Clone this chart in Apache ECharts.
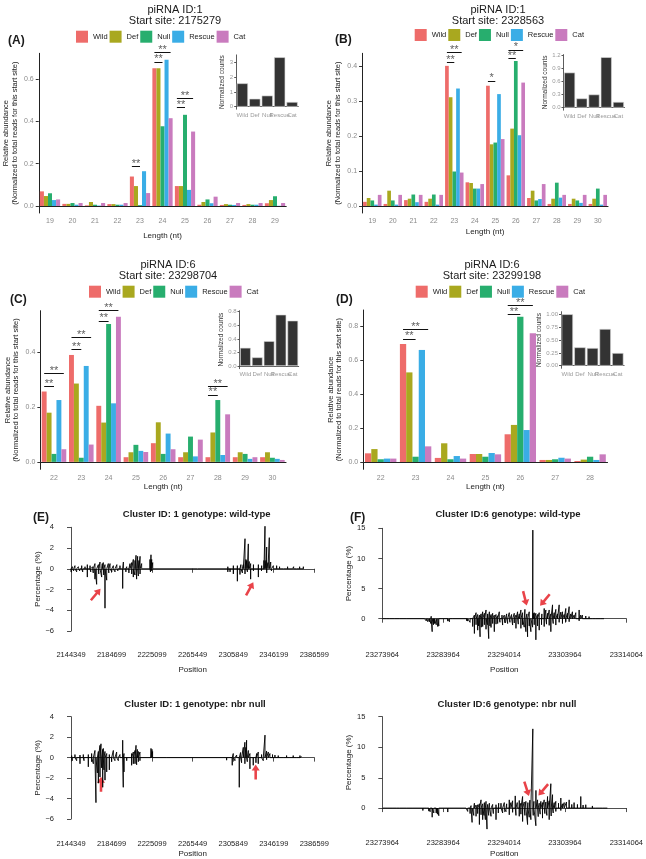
<!DOCTYPE html>
<html>
<head>
<meta charset="utf-8">
<script src="https://cdn.jsdelivr.net/npm/echarts@6/dist/echarts.min.js"></script>
<style>
html, body { margin: 0; padding: 0; background: #fff; }
#main { width: 646px; height: 859px; }
</style>
</head>
<body>
<div id="main"></div>
<script>
var genotypes = ['Wild', 'Def', 'Null', 'Rescue', 'Cat'];
var genoColors = ['#EE6C6A', '#A9A81F', '#27AE6E', '#3AADE6', '#C97BBE'];

// (A) piRNA ID:1, start site 2175279
var lenA = [19, 20, 21, 22, 23, 24, 25, 26, 27, 28, 29];
var A_wild   = [0.069, 0.010, 0.003, 0.009, 0.139, 0.650, 0.094, 0.006, 0.005, 0.005, 0.013];
var A_def    = [0.047, 0.010, 0.019, 0.009, 0.094, 0.650, 0.094, 0.019, 0.009, 0.009, 0.028];
var A_null   = [0.060, 0.014, 0.006, 0.006, 0.004, 0.376, 0.430, 0.031, 0.006, 0.006, 0.046];
var A_rescue = [0.028, 0.006, 0.002, 0.006, 0.164, 0.690, 0.076, 0.013, 0.005, 0.006, 0.001];
var A_cat    = [0.031, 0.014, 0.014, 0.014, 0.061, 0.414, 0.351, 0.044, 0.014, 0.014, 0.014];
var A_counts = [1.58, 0.54, 0.75, 3.34, 0.32];
// [length, from genotype, to genotype, height, label]
var A_sig = [[23, 0, 2, 0.186, '**'], [24, 0, 2, 0.68, '**'], [24, 0, 4, 0.724, '**'],
             [25, 0, 2, 0.466, '**'], [25, 0, 4, 0.507, '**']];

// (B) piRNA ID:1, start site 2328563
var lenB = [19, 20, 21, 22, 23, 24, 25, 26, 27, 28, 29, 30];
var B_wild   = [0.012, 0.006, 0.017, 0.012, 0.402, 0.068, 0.345, 0.088, 0.023, 0.006, 0.006, 0.006];
var B_def    = [0.023, 0.044, 0.021, 0.021, 0.312, 0.066, 0.177, 0.222, 0.044, 0.021, 0.021, 0.021];
var B_null   = [0.016, 0.016, 0.033, 0.033, 0.099, 0.050, 0.182, 0.416, 0.016, 0.067, 0.016, 0.050];
var B_rescue = [0.004, 0.004, 0.011, 0.004, 0.337, 0.050, 0.321, 0.203, 0.020, 0.024, 0.009, 0.004];
var B_cat    = [0.032, 0.032, 0.032, 0.032, 0.096, 0.063, 0.192, 0.354, 0.063, 0.032, 0.032, 0.032];
var B_counts = [0.80, 0.21, 0.30, 1.15, 0.13];
var B_sig = [[23, 0, 2, 0.413, '**'], [23, 0, 4, 0.44, '**'], [25, 0, 2, 0.359, '*'],
             [26, 0, 2, 0.424, '**'], [26, 0, 4, 0.448, '*']];

// (C) piRNA ID:6, start site 23298704
var lenC = [22, 23, 24, 25, 26, 27, 28, 29, 30];
var C_wild   = [0.256, 0.389, 0.204, 0.017, 0.068, 0.017, 0.017, 0.017, 0.017];
var C_def    = [0.179, 0.285, 0.143, 0.035, 0.144, 0.035, 0.107, 0.035, 0.035];
var C_null   = [0.029, 0.015, 0.502, 0.062, 0.029, 0.092, 0.225, 0.029, 0.015];
var C_rescue = [0.225, 0.349, 0.213, 0.040, 0.103, 0.020, 0.025, 0.011, 0.011];
var C_cat    = [0.046, 0.063, 0.528, 0.036, 0.046, 0.081, 0.173, 0.017, 0.007];
var C_counts = [0.268, 0.127, 0.366, 0.756, 0.668];
var C_sig = [[22, 0, 2, 0.276, '**'], [22, 0, 4, 0.321, '**'], [23, 0, 2, 0.41, '**'],
             [23, 0, 4, 0.452, '**'], [24, 0, 2, 0.513, '**'], [24, 0, 4, 0.55, '**'],
             [28, 0, 2, 0.244, '**'], [28, 0, 4, 0.276, '**']];

// (D) piRNA ID:6, start site 23299198
var lenD = [22, 23, 24, 25, 26, 27, 28];
var D_wild   = [0.051, 0.694, 0.024, 0.047, 0.163, 0.012, 0.006];
var D_def    = [0.076, 0.527, 0.110, 0.047, 0.218, 0.012, 0.014];
var D_null   = [0.016, 0.031, 0.016, 0.031, 0.855, 0.016, 0.031];
var D_rescue = [0.020, 0.659, 0.035, 0.053, 0.188, 0.025, 0.012];
var D_cat    = [0.020, 0.092, 0.020, 0.045, 0.757, 0.020, 0.045];
var D_counts = [1.00, 0.357, 0.344, 0.714, 0.247];
var D_sig = [[23, 0, 2, 0.724, '**'], [23, 0, 4, 0.782, '**'],
             [26, 0, 2, 0.869, '**'], [26, 0, 4, 0.92, '**']];

// (E) cluster 1 read percentage per position [position, %]
var E_ticks = [2144349, 2184699, 2225099, 2265449, 2305849, 2346199, 2386599];
var E_wt_up = [[2145700,0.2],[2148300,0.3],[2151700,0.2],[2155000,0.3],[2158300,0.2],[2160600,0.4],[2163300,0.3],
  [2165900,0.2],[2168200,0.5],[2171600,0.4],[2173200,0.65],[2175500,0.5],[2176500,0.6],[2178200,0.4],[2181500,0.5],
  [2183200,0.5],[2186500,0.3],[2190000,0.4],[2193100,0.3],[2196500,0.65],[2199800,0.2],[2203100,0.5],[2204800,0.6],
  [2206400,0.9],[2208100,0.8],[2209100,1.3],[2210700,1.2],[2212000,0.8],[2213100,1.2],[2214700,0.5],[2223000,0.9],
  [2224000,1.35],[2224700,0.9],[2225700,0.6],[2270500,0.15],[2300500,0.2],[2306000,0.3],[2310000,0.3],[2313500,0.4],
  [2315900,0.4],[2317600,2.9],[2318500,0.9],[2319300,0.8],[2320900,2.4],[2321800,0.7],[2323200,0.5],[2326000,0.4],
  [2330900,0.4],[2334200,0.3],[2336500,0.8],[2337500,4.1],[2338500,0.8],[2339200,2.1],[2340500,0.6],[2341800,3.0],
  [2343200,0.65],[2345800,0.3],[2349100,0.3],[2352000,0.2],[2355800,0.15],[2360000,0.2],[2362400,0.15],[2366000,0.2],
  [2369000,0.15],[2372000,0.2],[2375700,0.2]];
var E_wt_down = [[2144500,-0.3],[2147000,-0.2],[2150000,-0.3],[2153000,-0.2],[2156000,-0.3],[2160600,-0.8],[2164000,-0.3],
  [2166500,-0.4],[2168200,-1.0],[2169900,-1.5],[2172000,-0.5],[2174900,-0.8],[2177000,-0.6],[2178200,-3.8],[2179900,-1.1],
  [2182000,-0.4],[2185000,-0.3],[2188200,-0.3],[2191000,-0.2],[2195800,-1.9],[2199000,-0.3],[2202000,-0.4],[2204800,-0.5],
  [2206400,-0.8],[2208000,-0.6],[2209700,-1.0],[2211400,-0.7],[2213100,-0.5],[2223500,-0.3],[2224700,-0.2],[2300500,-0.3],
  [2302700,-0.3],[2306000,-0.5],[2310000,-1.2],[2312600,-0.55],[2315000,-0.4],[2317600,-0.5],[2320000,-0.3],[2323200,-1.0],
  [2326000,-0.2],[2330900,-0.8],[2334000,-0.2],[2339200,-0.4],[2344000,-0.2],[2365000,-0.15],[2373000,-0.15]];
var E_nbr_up = [[2145000,0.2],[2148300,0.3],[2153300,0.25],[2156600,0.3],[2161600,0.3],[2164900,0.4],[2168200,0.7],
  [2171600,0.6],[2173200,1.2],[2174200,1.35],[2175900,0.8],[2176500,0.9],[2178200,0.6],[2179900,0.4],[2182500,0.3],
  [2186500,0.7],[2189800,0.55],[2193100,0.3],[2195800,1.7],[2197100,0.4],[2204700,0.4],[2206400,0.55],[2208100,0.7],
  [2209100,1.2],[2210400,0.8],[2211400,0.6],[2213000,0.55],[2224000,0.9],[2225000,0.8],[2225600,0.6],[2239600,0.05],
  [2299300,0.15],[2305900,0.4],[2309300,0.25],[2313200,0.5],[2315900,1.0],[2317500,1.5],[2318500,1.0],[2319200,1.7],
  [2320900,0.7],[2322500,0.4],[2329200,0.4],[2330800,0.55],[2334100,0.3],[2337500,2.2],[2339100,0.65],[2340800,0.55],
  [2342400,0.4],[2345000,0.3],[2347400,0.25],[2350700,0.2],[2355700,0.15],[2359000,0.2],[2362300,0.15],[2365600,0.2],
  [2369000,0.15],[2372300,0.2],[2374000,0.1]];
var E_nbr_down = [[2145600,-0.3],[2150000,-0.3],[2153300,-0.6],[2157300,-0.3],[2161600,-0.9],[2164900,-0.4],[2166600,-0.6],
  [2169200,-4.4],[2170600,-1.5],[2171600,-2.5],[2173200,-1.9],[2174900,-1.0],[2175900,-2.9],[2177200,-1.2],[2178200,-2.2],
  [2179900,-1.4],[2182500,-1.2],[2184800,-0.4],[2188100,-0.3],[2191500,-0.3],[2196400,-2.9],[2197100,-1.4],[2199800,-0.3],
  [2204700,-0.75],[2206400,-0.6],[2208100,-0.6],[2209700,-0.7],[2211400,-0.4],[2213000,-0.3],[2224400,-0.15],
  [2299300,-0.25],[2304900,-0.75],[2307600,-0.3],[2311900,-2.9],[2314200,-0.5],[2317500,-0.6],[2319900,-0.4],
  [2322500,-1.1],[2325800,-0.75],[2328500,-0.5],[2330800,-0.6],[2335800,-0.3],[2339100,-0.2],[2345700,-0.15]];

// (F) cluster 6 read percentage per position [position, %]
var F_ticks = [23273964, 23283964, 23294014, 23303964, 23314064];
var F_wt_up = [[23274070,0.1],[23274620,0.15],[23275440,0.1],[23275990,0.2],[23276800,0.1],[23277900,0.15],[23281180,0.2],
  [23281610,0.3],[23282000,0.4],[23282540,0.3],[23283090,0.2],[23285000,0.15],[23285550,0.1],[23287840,0.2],[23288280,0.3],
  [23289100,0.6],[23289370,1.0],[23289640,0.7],[23289920,0.6],[23290190,0.8],[23290460,1.15],[23290740,0.9],[23291010,1.45],
  [23291280,0.8],[23291560,1.15],[23291830,0.7],[23292100,0.9],[23292370,0.6],[23292650,0.7],[23292920,0.5],[23293190,1.15],
  [23293630,0.6],[23294010,0.6],[23294400,0.8],[23294830,1.0],[23295210,0.7],[23295650,0.9],[23295930,0.6],[23296200,1.15],
  [23296470,0.8],[23296740,1.45],[23297020,1.0],[23297400,1.55],[23297730,0.8],[23298110,1.15],[23298700,14.7],[23298850,0.9],
  [23298930,1.0],[23299200,0.9],[23299480,0.7],[23299750,1.0],[23300190,0.8],[23300570,1.7],[23300840,1.45],[23301120,0.9],
  [23301390,1.45],[23301660,0.8],[23301940,2.3],[23302210,1.0],[23302480,1.55],[23302750,0.8],[23303030,2.3],[23303300,1.1],
  [23303570,1.15],[23303850,0.7],[23304120,1.7],[23304390,0.9],[23304670,2.0],[23304940,0.8],[23305210,1.15],[23305480,0.6],
  [23305760,1.0],[23306310,1.45],[23306580,0.6],[23306850,0.6],[23307400,0.45],[23307940,0.35],[23308490,0.25],
  [23309040,0.2],[23309860,0.15],[23310400,0.1]];
var F_wt_down = [[23274350,-0.3],[23274890,-0.2],[23275170,-0.2],[23275990,-0.15],[23276800,-0.15],[23277900,-0.1],
  [23280900,-0.3],[23281180,-0.35],[23281450,-0.5],[23281720,-0.5],[23281940,-0.8],[23282160,-2.15],[23282380,-1.0],
  [23282540,-0.8],[23282820,-1.0],[23283090,-1.3],[23283250,-1.2],[23284720,-0.4],[23285000,-0.5],[23287840,-0.35],
  [23288000,-0.4],[23288390,-0.6],[23288820,-1.3],[23289100,-2.45],[23289370,-1.0],[23289640,-1.9],[23289800,-1.2],
  [23290030,-3.0],[23290240,-1.4],[23290460,-1.3],[23290740,-1.0],[23291010,-1.75],[23291230,-1.0],[23291450,-3.3],
  [23291660,-1.2],[23291830,-1.45],[23292100,-0.8],[23292370,-2.15],[23292650,-0.9],[23292920,-0.8],[23293300,-0.6],
  [23293740,-1.05],[23294180,-0.7],[23294560,-0.8],[23294940,-0.6],[23295380,-1.05],[23295650,-0.7],[23295930,-1.6],
  [23296310,-0.9],[23296740,-1.6],[23297020,-1.0],[23297290,-1.4],[23297560,-2.15],[23297840,-3.0],[23298110,-1.2],
  [23298380,-2.15],[23298660,-1.4],[23298930,-1.0],[23299200,-3.5],[23299480,-1.2],[23299750,-1.9],[23300130,-1.0],
  [23300570,-1.3],[23300950,-0.9],[23301390,-1.1],[23301660,-2.15],[23302050,-0.8],[23302480,-1.05],[23303030,-0.6],
  [23303570,-0.8],[23304120,-0.5],[23304670,-0.5],[23305480,-0.3],[23306310,-0.35],[23307400,-0.2],[23308490,-0.15]];
var F_nbr_up = [[23274070,0.1],[23274890,0.15],[23275710,0.1],[23276800,0.15],[23277900,0.1],[23281180,0.2],[23282000,0.3],
  [23282820,0.2],[23284720,0.1],[23288000,0.2],[23288550,0.4],[23289100,0.8],[23289370,0.5],[23289640,0.55],[23289920,0.7],
  [23290190,1.35],[23290460,0.7],[23290740,0.9],[23291010,1.1],[23291280,0.6],[23291560,0.8],[23292100,0.6],[23292650,0.55],
  [23293090,0.8],[23293470,0.8],[23294010,0.9],[23294400,0.7],[23294830,1.35],[23295100,0.9],[23295380,1.2],[23295810,2.0],
  [23296140,0.9],[23296470,1.25],[23296740,0.8],[23297020,1.9],[23297290,1.0],[23297560,1.1],[23297890,0.9],[23298220,1.3],
  [23298700,13.0],[23298880,1.1],[23299210,2.9],[23299480,1.35],[23299750,0.8],[23300020,1.1],[23300290,0.9],[23300570,1.35],
  [23300840,1.0],[23301120,1.9],[23301390,1.2],[23301660,4.0],[23301940,2.2],[23302210,0.9],[23302480,1.1],[23302920,0.8],
  [23303300,1.65],[23303570,0.7],[23303850,0.9],[23304230,1.0],[23304670,1.35],[23305100,0.6],[23305480,0.9],[23306030,0.6],
  [23306580,1.9],[23306960,0.5],[23307400,0.55],[23307940,0.3],[23308490,0.35],[23309040,0.25],[23309580,0.2],
  [23310130,0.1],[23310950,0.05]];
var F_nbr_down = [[23274350,-0.27],[23275170,-0.2],[23276260,-0.2],[23277900,-0.25],[23279000,-0.15],[23280630,-0.4],
  [23281180,-0.3],[23281610,-0.5],[23281830,-0.6],[23282160,-1.5],[23282430,-0.8],[23282820,-0.8],[23283030,-1.0],
  [23283250,-1.25],[23284720,-0.65],[23287730,-0.3],[23288000,-0.55],[23288390,-0.9],[23288720,-2.35],[23288990,-1.2],
  [23289370,-1.35],[23289640,-0.9],[23289920,-2.7],[23290190,-1.1],[23290460,-1.9],[23290680,-1.2],[23290900,-1.9],
  [23291170,-3.45],[23291450,-1.2],[23291830,-1.35],[23292210,-0.9],[23292650,-1.9],[23293030,-0.8],[23293740,-0.8],
  [23294290,-0.6],[23294830,-1.1],[23295380,-0.7],[23295930,-1.2],[23296470,-1.35],[23296740,-1.0],[23297020,-2.2],
  [23297400,-1.2],[23297840,-2.7],[23298110,-1.5],[23298380,-1.9],[23298770,-1.2],[23299200,-2.9],[23299590,-1.4],
  [23299910,-1.0],[23300290,-1.65],[23300680,-0.9],[23301010,-1.2],[23301390,-1.9],[23301720,-1.3],[23302050,-0.8],
  [23302480,-0.55],[23303300,-0.4],[23304120,-0.3],[23305210,-0.2],[23306580,-0.15]];

// red arrows [position, %, rotation]
var E_wt_arrows  = [[2168940, -2.48, -40], [2322260, -1.93, -29]];
var E_nbr_arrows = [[2174217, -2.61, 0], [2328238, -1.41, 0]];
var F_wt_arrows  = [[23297402, 3.38, -166], [23300680, 3.1, 140]];
var F_nbr_arrows = [[23297680, 3.16, -162], [23300417, 3.0, 140]];

var FONT = '"Liberation Sans", Arial, Helvetica, sans-serif';
var ARROW = 'path://M5,0 L10,7 L6.6,7 L6.6,18 L3.4,18 L3.4,7 L0,7 Z';

var option = {
    animation: false,
    backgroundColor: '#fff',
    textStyle: { fontFamily: FONT },
    title: [], legend: [], grid: [], xAxis: [], yAxis: [], series: []
};

function fixed(d) {
    return function (v) { return v.toFixed(d); };
}

function addTitle(text, x, y, size, bold, align) {
    option.title.push({
        text: text, left: x, top: y, textAlign: align || 'center',
        textStyle: { fontSize: size, fontWeight: bold ? 'bold' : 'normal', color: '#1a1a1a',
                     lineHeight: size - 0.5, fontFamily: FONT }
    });
}

function addBarPanel(p) {
    var gi = option.grid.length;
    option.grid.push({ left: p.box[0], top: p.box[1], width: p.box[2], height: p.box[3] });
    var xi = option.xAxis.length, yi = option.yAxis.length, n = p.lengths.length;
    option.xAxis.push({
        type: 'category', gridIndex: gi, data: p.lengths,
        name: 'Length (nt)', nameLocation: 'middle', nameGap: p.xNameGap,
        nameTextStyle: { fontSize: 8, color: '#222' },
        axisLine: { lineStyle: { color: '#222', width: 1 } },
        axisTick: { alignWithLabel: true, length: 3, lineStyle: { color: '#333' } },
        axisLabel: { fontSize: 7, color: '#8a8a8a', margin: 5, interval: 0 }
    });
    option.xAxis.push({ type: 'value', gridIndex: gi, show: false,
                        min: p.lengths[0] - 0.5, max: p.lengths[n - 1] + 0.5 });
    option.yAxis.push({
        type: 'value', gridIndex: gi, min: p.yRange[0], max: p.yRange[1],
        name: 'Relative abundance\n(Normalized to total reads for this start site)',
        nameLocation: 'middle', nameGap: p.yNameGap,
        nameTextStyle: { fontSize: 7.5, color: '#222', lineHeight: 8.5 },
        axisLine: { show: true, lineStyle: { color: '#222', width: 1 } },
        axisTick: { show: true, length: 3, customValues: p.yTicks, lineStyle: { color: '#333' } },
        axisLabel: { fontSize: 7, color: '#8a8a8a', margin: 5, customValues: p.yTicks, formatter: fixed(1) },
        splitLine: { show: false }
    });
    p.values.forEach(function (vals, g) {
        option.series.push({
            type: 'bar', name: genotypes[g], xAxisIndex: xi, yAxisIndex: yi, data: vals,
            barGap: '0%', barCategoryGap: '10%', itemStyle: { color: genoColors[g] }
        });
    });
    // significance brackets
    function gx(len, g) { return len - 0.36 + 0.18 * g; }
    option.series.push({
        type: 'lines', coordinateSystem: 'cartesian2d', xAxisIndex: xi + 1, yAxisIndex: yi,
        clip: false, silent: true,
        lineStyle: { color: '#111', width: 1, opacity: 1 },
        data: p.sig.map(function (s) { return { coords: [[gx(s[0], s[1]), s[3]], [gx(s[0], s[2]), s[3]]] }; })
    });
    option.series.push({
        type: 'scatter', xAxisIndex: xi + 1, yAxisIndex: yi, symbolSize: 0, clip: false, silent: true,
        label: { show: true, position: 'top', distance: -3, fontSize: 11, color: '#333' },
        data: p.sig.map(function (s) {
            return { value: [(gx(s[0], s[1]) + gx(s[0], s[2])) / 2, s[3]], label: { formatter: s[4] } };
        })
    });
    // inset: normalized counts
    var ig = option.grid.length;
    option.grid.push({ left: p.inset.box[0], top: p.inset.box[1], width: p.inset.box[2], height: p.inset.box[3] });
    var ixi = option.xAxis.length, iyi = option.yAxis.length;
    option.xAxis.push({
        type: 'category', gridIndex: ig, data: genotypes,
        axisLine: { lineStyle: { color: '#333', width: 0.8 } },
        axisTick: { alignWithLabel: true, length: 2, lineStyle: { color: '#555' } },
        axisLabel: { fontSize: 6, color: '#999', margin: 3, interval: 0, hideOverlap: false }
    });
    option.yAxis.push({
        type: 'value', gridIndex: ig, min: p.inset.range[0], max: p.inset.range[1],
        name: 'Normalized counts', nameLocation: 'middle', nameGap: p.inset.nameGap,
        nameTextStyle: { fontSize: 6.5, color: '#333' },
        axisLine: { show: true, lineStyle: { color: '#333', width: 0.8 } },
        axisTick: { show: true, length: 2, customValues: p.inset.ticks, lineStyle: { color: '#555' } },
        axisLabel: { fontSize: 6, color: '#999', margin: 3, customValues: p.inset.ticks, formatter: fixed(p.inset.dec) },
        splitLine: { show: false }
    });
    option.series.push({
        type: 'bar', xAxisIndex: ixi, yAxisIndex: iyi, data: p.inset.values, barCategoryGap: '10%',
        itemStyle: { color: '#333333', borderColor: '#d8d8d8', borderWidth: 0.6 }
    });
    option.legend.push({
        data: genotypes, left: p.legend[0], top: p.legend[1], icon: 'rect', padding: 0,
        itemWidth: 12, itemHeight: 12, itemGap: 2, selectedMode: false,
        textStyle: { fontSize: 7.5, color: '#222' }
    });
    addTitle(p.title, p.titlePos[0], p.titlePos[1], 11, false);
    addTitle(p.letter, p.letterPos[0], p.letterPos[1], 12, true, 'left');
}

function spikeData(up, down) {
    var all = up.concat(down).sort(function (a, b) { return a[0] - b[0]; });
    var d = [];
    all.forEach(function (s) { d.push([s[0], 0], [s[0], s[1]], [s[0], 0]); });
    return d;
}

function minusFmt(v) { return v < 0 ? '\u2212' + Math.abs(v) : String(v); }

function addSpikePanel(p) {
    var gi = option.grid.length;
    option.grid.push({ left: p.box[0], top: p.box[1], width: p.box[2], height: p.box[3] });
    var xi = option.xAxis.length, yi = option.yAxis.length, t = p.xTicks;
    option.xAxis.push({
        type: 'value', gridIndex: gi, min: t[0], max: t[t.length - 1], offset: p.xOffset,
        name: 'Position', nameLocation: 'middle', nameGap: p.xNameGap,
        nameTextStyle: { fontSize: 8, color: '#222' },
        axisLine: { show: true, lineStyle: { color: '#222', width: 0.8 } },
        axisTick: { show: true, length: 4, customValues: t, lineStyle: { color: '#222', width: 0.8 } },
        axisLabel: { fontSize: 7.5, color: '#222', margin: 6, customValues: t, formatter: function (v) { return String(v); } },
        splitLine: { show: false }
    });
    option.yAxis.push({ type: 'value', gridIndex: gi, show: false, min: p.yData[0], max: p.yData[1] });
    option.series.push({
        type: 'line', xAxisIndex: xi, yAxisIndex: yi, data: spikeData(p.up, p.down),
        symbol: 'none', clip: false, silent: true,
        lineStyle: { color: '#000', width: 0.9 }
    });
    option.series.push({
        type: 'scatter', xAxisIndex: xi, yAxisIndex: yi, symbol: ARROW, symbolSize: [8, 15],
        clip: false, silent: true, itemStyle: { color: '#E3141B' },
        data: p.arrows.map(function (a) { return { value: [a[0], a[1]], symbolRotate: a[2] }; })
    });
    // visible y axis only over its tick range
    var ag = option.grid.length;
    var yt = p.yTicks, span = p.yData[1] - p.yData[0];
    var h = p.box[3] * (yt[yt.length - 1] - yt[0]) / span;
    var top = p.box[1] + p.box[3] * (p.yData[1] - yt[yt.length - 1]) / span;
    option.grid.push({ left: p.box[0], top: top, width: p.box[2], height: h });
    option.xAxis.push({ type: 'value', gridIndex: ag, show: false, min: 0, max: 1 });
    option.yAxis.push({
        type: 'value', gridIndex: ag, min: yt[0], max: yt[yt.length - 1], offset: 10,
        name: 'Percentage (%)', nameLocation: 'middle', nameGap: p.yNameGap,
        nameTextStyle: { fontSize: 8, color: '#222' },
        axisLine: { show: true, lineStyle: { color: '#222', width: 0.8 } },
        axisTick: { show: true, length: 4, customValues: yt, lineStyle: { color: '#222', width: 0.8 } },
        axisLabel: { fontSize: 7.5, color: '#222', margin: 7, customValues: yt, formatter: minusFmt },
        splitLine: { show: false }
    });
    addTitle(p.title, p.titlePos[0], p.titlePos[1], 9.5, true);
    if (p.letter) addTitle(p.letter, p.letterPos[0], p.letterPos[1], 12, true, 'left');
}

addBarPanel({
    lengths: lenA, values: [A_wild, A_def, A_null, A_rescue, A_cat], sig: A_sig,
    box: [38.75, 53.3, 247.5, 159.7], yRange: [-0.033, 0.72], yTicks: [0, 0.2, 0.4, 0.6],
    xNameGap: 19, yNameGap: 20,
    inset: { values: A_counts, box: [236.2, 54.9, 62.1, 54.3], range: [-0.167, 3.5], ticks: [0, 1, 2, 3], dec: 0, nameGap: 10 },
    legend: [76, 30.7], title: 'piRNA ID:1\nStart site: 2175279', titlePos: [170, 0],
    letter: '(A)', letterPos: [3, 30]
});
addBarPanel({
    lengths: lenB, values: [B_wild, B_def, B_null, B_rescue, B_cat], sig: B_sig,
    box: [362.05, 53.3, 246, 159.7], yRange: [-0.02, 0.438], yTicks: [0, 0.1, 0.2, 0.3, 0.4],
    xNameGap: 15, yNameGap: 20,
    inset: { values: B_counts, box: [563.5, 54.6, 61.05, 55.6], range: [-0.058, 1.21], ticks: [0, 0.3, 0.6, 0.9, 1.2], dec: 1, nameGap: 14 },
    legend: [414.7, 29], title: 'piRNA ID:1\nStart site: 2328563', titlePos: [493, 0],
    letter: '(B)', letterPos: [330, 29]
});
addBarPanel({
    lengths: lenC, values: [C_wild, C_def, C_null, C_rescue, C_cat], sig: C_sig,
    box: [40.35, 310.7, 245.7, 158.6], yRange: [-0.027, 0.55], yTicks: [0, 0.2, 0.4],
    xNameGap: 13, yNameGap: 20,
    inset: { values: C_counts, box: [239.5, 310.7, 59.2, 58], range: [-0.04, 0.815], ticks: [0, 0.2, 0.4, 0.6, 0.8], dec: 1, nameGap: 14 },
    legend: [89, 285.7], title: 'piRNA ID:6\nStart site: 23298704', titlePos: [163, 255],
    letter: '(C)', letterPos: [5, 289]
});
addBarPanel({
    lengths: lenD, values: [D_wild, D_def, D_null, D_rescue, D_cat], sig: D_sig,
    box: [363.25, 310, 244.3, 159.3], yRange: [-0.043, 0.894], yTicks: [0, 0.2, 0.4, 0.6, 0.8],
    xNameGap: 13, yNameGap: 20,
    inset: { values: D_counts, box: [561, 311.7, 63.1, 56.6], range: [-0.05, 1.05], ticks: [0, 0.25, 0.5, 0.75, 1], dec: 2, nameGap: 16 },
    legend: [415.7, 285.7], title: 'piRNA ID:6\nStart site: 23299198', titlePos: [487, 255],
    letter: '(D)', letterPos: [331, 289]
});

addSpikePanel({
    up: E_wt_up, down: E_wt_down, arrows: E_wt_arrows, xTicks: E_ticks,
    box: [71, 527.3, 243.3, 103.7], yData: [-6, 4], yTicks: [-6, -4, -2, 0, 2, 4],
    xOffset: 14, xNameGap: 21, yNameGap: 18,
    title: 'Cluster ID: 1 genotype: wild-type', titlePos: [191.7, 504.5],
    letter: '(E)', letterPos: [28, 507]
});
addSpikePanel({
    up: E_nbr_up, down: E_nbr_down, arrows: E_nbr_arrows, xTicks: E_ticks,
    box: [71, 716.7, 243.3, 102.3], yData: [-6, 4], yTicks: [-6, -4, -2, 0, 2, 4],
    xOffset: 15, xNameGap: 16, yNameGap: 18,
    title: 'Cluster ID: 1 genotype: nbr null', titlePos: [190, 694.5]
});
addSpikePanel({
    up: F_wt_up, down: F_wt_down, arrows: F_wt_arrows, xTicks: F_ticks,
    box: [382.3, 528.3, 244.7, 116.7], yData: [-4.36, 15], yTicks: [0, 5, 10, 15],
    xOffset: 0, xNameGap: 21, yNameGap: 19,
    title: 'Cluster ID:6 genotype: wild-type', titlePos: [503, 504.5],
    letter: '(F)', letterPos: [345, 507]
});
addSpikePanel({
    up: F_nbr_up, down: F_nbr_down, arrows: F_nbr_arrows, xTicks: F_ticks,
    box: [382.3, 716.7, 244.7, 116.6], yData: [-4.09, 15], yTicks: [0, 5, 10, 15],
    xOffset: 0, xNameGap: 17, yNameGap: 19,
    title: 'Cluster ID:6 genotype: nbr null', titlePos: [502, 694.5]
});

var myChart = echarts.init(document.getElementById('main'), null, { renderer: 'canvas' });
myChart.setOption(option);
</script>
</body>
</html>
